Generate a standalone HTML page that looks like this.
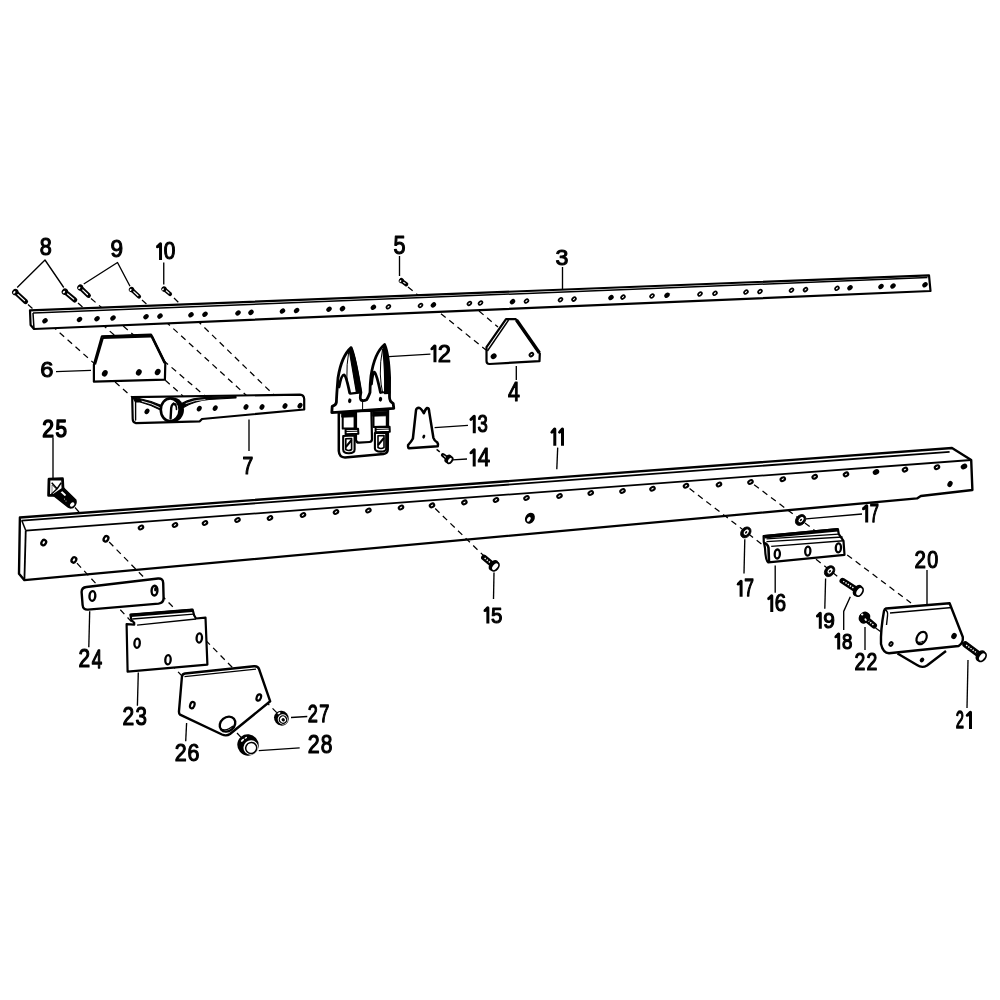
<!DOCTYPE html>
<html><head><meta charset="utf-8"><style>
html,body{margin:0;padding:0;background:#fff;width:1000px;height:1000px;overflow:hidden}
svg{display:block;will-change:transform}
text{font-family:"Liberation Sans",sans-serif}
</style></head><body>
<svg width="1000" height="1000" viewBox="0 0 1000 1000">
<rect width="1000" height="1000" fill="#fff"/>
<g stroke="#000" fill="none">
<line x1="28" y1="304.5" x2="133" y2="398" stroke-width="1.25" stroke-dasharray="6 4.6"/>
<line x1="78" y1="303" x2="183" y2="396" stroke-width="1.25" stroke-dasharray="6 4.6"/>
<line x1="91" y1="298.5" x2="205" y2="396" stroke-width="1.25" stroke-dasharray="6 4.6"/>
<line x1="142" y1="300" x2="247" y2="396" stroke-width="1.25" stroke-dasharray="6 4.6"/>
<line x1="174" y1="298" x2="275" y2="396" stroke-width="1.25" stroke-dasharray="6 4.6"/>
<line x1="408" y1="287" x2="486" y2="350" stroke-width="1.25" stroke-dasharray="6 4.6"/>
<line x1="479" y1="311" x2="498" y2="327" stroke-width="1.25" stroke-dasharray="6 4.6"/>
</g>
<g stroke="#000" stroke-linejoin="round">
<path d="M30,310.4 L929,275.3 L930.5,291 L34,329 L30.6,325 Z" stroke-width="2.2" fill="#fff"/>
<line x1="33" y1="313" x2="927.5" y2="277.6" stroke-width="1.5"/>
<line x1="33" y1="313" x2="34" y2="329" stroke-width="1.5"/>
<ellipse cx="45" cy="320.83" rx="3" ry="2.3" transform="rotate(-40 45 320.83)" fill="#000" stroke="none"/>
<ellipse cx="79.5" cy="319.41" rx="3" ry="2.3" transform="rotate(-40 79.5 319.41)" fill="#000" stroke="none"/>
<ellipse cx="97" cy="318.69" rx="3" ry="2.3" transform="rotate(-40 97 318.69)" fill="#000" stroke="none"/>
<ellipse cx="113" cy="318.04" rx="3" ry="2.3" transform="rotate(-40 113 318.04)" fill="#000" stroke="none"/>
<ellipse cx="146" cy="316.68" rx="3" ry="2.3" transform="rotate(-40 146 316.68)" fill="#000" stroke="none"/>
<ellipse cx="160" cy="316.11" rx="3" ry="2.3" transform="rotate(-40 160 316.11)" fill="#000" stroke="none"/>
<ellipse cx="191" cy="314.84" rx="3" ry="2.3" transform="rotate(-40 191 314.84)" fill="#000" stroke="none"/>
<ellipse cx="205" cy="314.26" rx="3" ry="2.3" transform="rotate(-40 205 314.26)" fill="#000" stroke="none"/>
<ellipse cx="238" cy="312.91" rx="3" ry="2.3" transform="rotate(-40 238 312.91)" fill="#000" stroke="none"/>
<ellipse cx="251" cy="312.38" rx="3" ry="2.3" transform="rotate(-40 251 312.38)" fill="#000" stroke="none"/>
<ellipse cx="282.5" cy="311.08" rx="3" ry="2.3" transform="rotate(-40 282.5 311.08)" fill="#000" stroke="none"/>
<ellipse cx="296.6" cy="310.5" rx="3" ry="2.3" transform="rotate(-40 296.6 310.5)" fill="#000" stroke="none"/>
<ellipse cx="329" cy="309.17" rx="3" ry="2.3" transform="rotate(-40 329 309.17)" fill="#000" stroke="none"/>
<ellipse cx="342.5" cy="308.62" rx="3" ry="2.3" transform="rotate(-40 342.5 308.62)" fill="#000" stroke="none"/>
<ellipse cx="373.4" cy="307.35" rx="3" ry="2.3" transform="rotate(-40 373.4 307.35)" fill="#000" stroke="none"/>
<ellipse cx="388.4" cy="306.74" rx="2.15" ry="1.45" transform="rotate(-40 388.4 306.74)" fill="#fff" stroke-width="1.7"/>
<ellipse cx="420.5" cy="305.42" rx="2.15" ry="1.45" transform="rotate(-40 420.5 305.42)" fill="#fff" stroke-width="1.7"/>
<ellipse cx="433.4" cy="304.89" rx="3" ry="2.3" transform="rotate(-40 433.4 304.89)" fill="#000" stroke="none"/>
<ellipse cx="469.4" cy="303.41" rx="2.15" ry="1.45" transform="rotate(-40 469.4 303.41)" fill="#fff" stroke-width="1.7"/>
<ellipse cx="480.5" cy="302.96" rx="2.15" ry="1.45" transform="rotate(-40 480.5 302.96)" fill="#fff" stroke-width="1.7"/>
<ellipse cx="512.5" cy="301.64" rx="3" ry="2.3" transform="rotate(-40 512.5 301.64)" fill="#000" stroke="none"/>
<ellipse cx="526.5" cy="301.07" rx="2.15" ry="1.45" transform="rotate(-40 526.5 301.07)" fill="#fff" stroke-width="1.7"/>
<ellipse cx="560.5" cy="299.67" rx="2.15" ry="1.45" transform="rotate(-40 560.5 299.67)" fill="#fff" stroke-width="1.7"/>
<ellipse cx="574" cy="299.12" rx="2.15" ry="1.45" transform="rotate(-40 574 299.12)" fill="#fff" stroke-width="1.7"/>
<ellipse cx="611" cy="297.6" rx="3" ry="2.3" transform="rotate(-40 611 297.6)" fill="#000" stroke="none"/>
<ellipse cx="623" cy="297.11" rx="2.15" ry="1.45" transform="rotate(-40 623 297.11)" fill="#fff" stroke-width="1.7"/>
<ellipse cx="652" cy="295.92" rx="2.15" ry="1.45" transform="rotate(-40 652 295.92)" fill="#fff" stroke-width="1.7"/>
<ellipse cx="667" cy="295.3" rx="3" ry="2.3" transform="rotate(-40 667 295.3)" fill="#000" stroke="none"/>
<ellipse cx="700" cy="293.95" rx="2.15" ry="1.45" transform="rotate(-40 700 293.95)" fill="#fff" stroke-width="1.7"/>
<ellipse cx="715" cy="293.33" rx="2.15" ry="1.45" transform="rotate(-40 715 293.33)" fill="#fff" stroke-width="1.7"/>
<ellipse cx="746" cy="292.06" rx="2.15" ry="1.45" transform="rotate(-40 746 292.06)" fill="#fff" stroke-width="1.7"/>
<ellipse cx="760" cy="291.49" rx="2.15" ry="1.45" transform="rotate(-40 760 291.49)" fill="#fff" stroke-width="1.7"/>
<ellipse cx="791.5" cy="290.19" rx="2.15" ry="1.45" transform="rotate(-40 791.5 290.19)" fill="#fff" stroke-width="1.7"/>
<ellipse cx="805.5" cy="289.62" rx="2.15" ry="1.45" transform="rotate(-40 805.5 289.62)" fill="#fff" stroke-width="1.7"/>
<ellipse cx="837" cy="288.33" rx="2.15" ry="1.45" transform="rotate(-40 837 288.33)" fill="#fff" stroke-width="1.7"/>
<ellipse cx="850" cy="287.79" rx="3" ry="2.3" transform="rotate(-40 850 287.79)" fill="#000" stroke="none"/>
<ellipse cx="881" cy="286.52" rx="3" ry="2.3" transform="rotate(-40 881 286.52)" fill="#000" stroke="none"/>
<ellipse cx="893" cy="286.03" rx="3" ry="2.3" transform="rotate(-40 893 286.03)" fill="#000" stroke="none"/>
<ellipse cx="925" cy="284.72" rx="3" ry="2.3" transform="rotate(-40 925 284.72)" fill="#000" stroke="none"/>
</g>
<g stroke="#000" stroke-linejoin="round">
<path d="M101.9,336.3 L151,334.6 L165.3,363.6 L164.9,379.6 L93.9,381.7 L93.9,364.5 Z" stroke-width="2.2" fill="#fff"/>
<line x1="102.5" y1="337.4" x2="151" y2="335.8" stroke-width="3.4"/>
<line x1="102.8" y1="338" x2="95" y2="364.5" stroke-width="2.2"/>
<line x1="151.6" y1="336" x2="164.8" y2="363" stroke-width="2.6"/>
<ellipse cx="104.8" cy="373.3" rx="3.4" ry="2.7" transform="rotate(-60 104.8 373.3)" fill="#000" stroke="none"/>
<ellipse cx="138.8" cy="372.4" rx="3.4" ry="2.7" transform="rotate(-60 138.8 372.4)" fill="#000" stroke="none"/>
<ellipse cx="157.7" cy="372" rx="3.4" ry="2.7" transform="rotate(-60 157.7 372)" fill="#000" stroke="none"/>
</g>
<g stroke="#000" stroke-linejoin="round" stroke-linecap="round">
<path d="M132.2,397.1 L300,394.6 Q304,395 304.2,399 L304.2,409.5 L202,419 L199.8,421.3 L136,423.2 Q132.7,422.5 132.7,419 Z" stroke-width="2.2" fill="#fff"/>
<line x1="135.6" y1="401.5" x2="135.6" y2="420" stroke-width="1.4"/>
<path d="M133,397.8 L137,398 Q150,400.5 161.5,405.5 L160.5,410 Q150,404.5 140,402 L135.5,402 Z" stroke-width="1.2" fill="#000"/>
<path d="M142,401.2 Q152,403.5 159.5,407.5" stroke-width="0.9" fill="none" stroke="#fff"/>
<path d="M181.5,403.5 Q192,397.5 208.6,397.4 L236,396.6 L236,397.8 L209,399.5 Q194,401 183.5,407.5 Z" stroke-width="1.2" fill="#000"/>
<path d="M186,403.5 Q195,399.8 205,399.6" stroke-width="0.8" fill="none" stroke="#fff"/>
<ellipse cx="173.2" cy="409.8" rx="10.8" ry="12.2" transform="rotate(0 173.2 409.8)" fill="#000" stroke="none"/>
<ellipse cx="170.2" cy="409.8" rx="9.4" ry="11.4" transform="rotate(0 170.2 409.8)" fill="#fff" stroke-width="2.6"/>
<path d="M175.5,404.5 Q172,402.5 171.2,408 L170.6,418.5" stroke-width="2.4" fill="none"/>
<path d="M173.5,403.2 Q176.8,405 176.5,409.5" stroke-width="1.6" fill="none"/>
<ellipse cx="147" cy="411.4" rx="3" ry="2.3" transform="rotate(-60 147 411.4)" fill="#000" stroke="none"/>
<ellipse cx="199.25" cy="408.65" rx="3" ry="2.3" transform="rotate(-60 199.25 408.65)" fill="#000" stroke="none"/>
<ellipse cx="215.2" cy="408.1" rx="3" ry="2.3" transform="rotate(-60 215.2 408.1)" fill="#000" stroke="none"/>
<ellipse cx="246" cy="407" rx="3" ry="2.3" transform="rotate(-60 246 407)" fill="#000" stroke="none"/>
<ellipse cx="262" cy="407" rx="3" ry="2.3" transform="rotate(-60 262 407)" fill="#000" stroke="none"/>
<ellipse cx="285" cy="406" rx="3" ry="2.3" transform="rotate(-60 285 406)" fill="#000" stroke="none"/>
<ellipse cx="300" cy="405.6" rx="3" ry="2.3" transform="rotate(-60 300 405.6)" fill="#000" stroke="none"/>
</g>
<g stroke="#000" stroke-linejoin="round">
<path d="M506,319.15 L515.75,319.15 L539.8,353.6 L539.5,361.1 L489.5,364 Q486.5,364 486.5,361 L486.5,347.1 Z" stroke-width="2.2" fill="#fff"/>
<line x1="516.5" y1="320" x2="539.3" y2="352.8" stroke-width="3.4"/>
<line x1="487.4" y1="351" x2="508.6" y2="320" stroke-width="1.4"/>
<ellipse cx="493.65" cy="356.2" rx="3.2" ry="2.6" transform="rotate(-40 493.65 356.2)" fill="#000" stroke="none"/>
<ellipse cx="531.4" cy="354.6" rx="2.1" ry="1.5" transform="rotate(-40 531.4 354.6)" fill="#fff" stroke-width="1.8"/>
</g>
<g stroke="#000">
<line x1="15.2" y1="292" x2="25.6" y2="301.6" stroke-width="5.0" stroke-linecap="round"/>
<line x1="17.87" y1="294.46" x2="24.57" y2="300.65" stroke="#fff" stroke-width="1.2" stroke-linecap="round"/>
<ellipse cx="15.2" cy="292" rx="3.3" ry="2.97" transform="rotate(132.71 15.2 292)" fill="#000" stroke="none"/>
<ellipse cx="14.3" cy="292.39" rx="1.39" ry="0.99" transform="rotate(132.71 14.3 292.39)" fill="#fff" stroke="none"/>
<line x1="64.8" y1="291.6" x2="74.8" y2="300" stroke-width="5.0" stroke-linecap="round"/>
<line x1="67.58" y1="293.93" x2="73.73" y2="299.1" stroke="#fff" stroke-width="1.2" stroke-linecap="round"/>
<ellipse cx="64.8" cy="291.6" rx="3.3" ry="2.97" transform="rotate(130.03 64.8 291.6)" fill="#000" stroke="none"/>
<ellipse cx="63.91" cy="292.03" rx="1.39" ry="0.99" transform="rotate(130.03 63.91 292.03)" fill="#fff" stroke="none"/>
<line x1="80.2" y1="287.5" x2="88.5" y2="295.5" stroke-width="4.8" stroke-linecap="round"/>
<line x1="82.66" y1="289.87" x2="87.49" y2="294.53" stroke="#fff" stroke-width="1.2" stroke-linecap="round"/>
<ellipse cx="80.2" cy="287.5" rx="3.1" ry="2.79" transform="rotate(133.95 80.2 287.5)" fill="#000" stroke="none"/>
<ellipse cx="79.29" cy="287.87" rx="1.3" ry="0.93" transform="rotate(133.95 79.29 287.87)" fill="#fff" stroke="none"/>
<line x1="131.5" y1="289.5" x2="139" y2="296.5" stroke-width="4.2" stroke-linecap="round"/>
<line x1="133.75" y1="291.6" x2="137.98" y2="295.54" stroke="#fff" stroke-width="1.2" stroke-linecap="round"/>
<ellipse cx="131.5" cy="289.5" rx="2.8" ry="2.52" transform="rotate(133.03 131.5 289.5)" fill="#000" stroke="none"/>
<ellipse cx="130.59" cy="289.89" rx="1.18" ry="0.84" transform="rotate(133.03 130.59 289.89)" fill="#fff" stroke="none"/>
<line x1="163.9" y1="288.9" x2="170" y2="294" stroke-width="4.2" stroke-linecap="round"/>
<line x1="166.18" y1="290.81" x2="168.93" y2="293.1" stroke="#fff" stroke-width="1.2" stroke-linecap="round"/>
<ellipse cx="163.9" cy="288.9" rx="2.7" ry="2.43" transform="rotate(129.9 163.9 288.9)" fill="#000" stroke="none"/>
<ellipse cx="163.02" cy="289.33" rx="1.13" ry="0.81" transform="rotate(129.9 163.02 289.33)" fill="#fff" stroke="none"/>
<line x1="401.3" y1="280.6" x2="406.2" y2="284.2" stroke-width="4.2" stroke-linecap="round"/>
<line x1="403.69" y1="282.36" x2="405.07" y2="283.37" stroke="#fff" stroke-width="1.2" stroke-linecap="round"/>
<ellipse cx="401.3" cy="280.6" rx="2.7" ry="2.43" transform="rotate(126.3 401.3 280.6)" fill="#000" stroke="none"/>
<ellipse cx="400.44" cy="281.09" rx="1.13" ry="0.81" transform="rotate(126.3 400.44 281.09)" fill="#fff" stroke="none"/>
</g>
<g stroke="#000" stroke-linejoin="round">
<path d="M19.9,517.5 L952,448 L971.2,460 L972.4,490 L920.8,496 L917,498.4 L24.4,580.1 L19,573.8 Z" stroke-width="2.4" fill="#fff"/>
<line x1="21.7" y1="520.6" x2="949.6" y2="451.9" stroke-width="1.9"/>
<line x1="25.75" y1="530.6" x2="971.2" y2="460" stroke-width="1.8"/>
<line x1="21.7" y1="520.3" x2="25.75" y2="530.6" stroke-width="1.5"/>
<line x1="25.75" y1="530.6" x2="24.4" y2="580" stroke-width="1.8"/>
<ellipse cx="141" cy="527.5" rx="2.35" ry="1.65" transform="rotate(-30 141 527.5)" fill="#fff" stroke-width="2.1"/>
<ellipse cx="175" cy="525" rx="2.35" ry="1.65" transform="rotate(-30 175 525)" fill="#fff" stroke-width="2.1"/>
<ellipse cx="205" cy="523" rx="2.35" ry="1.65" transform="rotate(-30 205 523)" fill="#fff" stroke-width="2.1"/>
<ellipse cx="237.5" cy="520" rx="2.35" ry="1.65" transform="rotate(-30 237.5 520)" fill="#fff" stroke-width="2.1"/>
<ellipse cx="270" cy="518" rx="2.35" ry="1.65" transform="rotate(-30 270 518)" fill="#fff" stroke-width="2.1"/>
<ellipse cx="303" cy="515" rx="2.35" ry="1.65" transform="rotate(-30 303 515)" fill="#fff" stroke-width="2.1"/>
<ellipse cx="336" cy="512" rx="2.35" ry="1.65" transform="rotate(-30 336 512)" fill="#fff" stroke-width="2.1"/>
<ellipse cx="368.4" cy="510.5" rx="2.35" ry="1.65" transform="rotate(-30 368.4 510.5)" fill="#fff" stroke-width="2.1"/>
<ellipse cx="401" cy="507.5" rx="2.35" ry="1.65" transform="rotate(-30 401 507.5)" fill="#fff" stroke-width="2.1"/>
<ellipse cx="432" cy="505.4" rx="2.35" ry="1.65" transform="rotate(-30 432 505.4)" fill="#fff" stroke-width="2.1"/>
<ellipse cx="464.4" cy="502.4" rx="2.35" ry="1.65" transform="rotate(-30 464.4 502.4)" fill="#fff" stroke-width="2.1"/>
<ellipse cx="496" cy="500" rx="2.35" ry="1.65" transform="rotate(-30 496 500)" fill="#fff" stroke-width="2.1"/>
<ellipse cx="526.5" cy="498" rx="2.35" ry="1.65" transform="rotate(-30 526.5 498)" fill="#fff" stroke-width="2.1"/>
<ellipse cx="559.5" cy="496" rx="2.35" ry="1.65" transform="rotate(-30 559.5 496)" fill="#fff" stroke-width="2.1"/>
<ellipse cx="590.75" cy="493" rx="2.35" ry="1.65" transform="rotate(-30 590.75 493)" fill="#fff" stroke-width="2.1"/>
<ellipse cx="622.5" cy="491" rx="2.35" ry="1.65" transform="rotate(-30 622.5 491)" fill="#fff" stroke-width="2.1"/>
<ellipse cx="652.5" cy="488.75" rx="2.35" ry="1.65" transform="rotate(-30 652.5 488.75)" fill="#fff" stroke-width="2.1"/>
<ellipse cx="686" cy="485.75" rx="2.35" ry="1.65" transform="rotate(-30 686 485.75)" fill="#fff" stroke-width="2.1"/>
<ellipse cx="719" cy="484.5" rx="2.35" ry="1.65" transform="rotate(-30 719 484.5)" fill="#fff" stroke-width="2.1"/>
<ellipse cx="750.5" cy="482" rx="2.35" ry="1.65" transform="rotate(-30 750.5 482)" fill="#fff" stroke-width="2.1"/>
<ellipse cx="782.8" cy="479.2" rx="2.35" ry="1.65" transform="rotate(-30 782.8 479.2)" fill="#fff" stroke-width="2.1"/>
<ellipse cx="814.7" cy="476.8" rx="2.35" ry="1.65" transform="rotate(-30 814.7 476.8)" fill="#fff" stroke-width="2.1"/>
<ellipse cx="846" cy="474.4" rx="2.35" ry="1.65" transform="rotate(-30 846 474.4)" fill="#fff" stroke-width="2.1"/>
<ellipse cx="876" cy="472" rx="3.4" ry="2.7" transform="rotate(-30 876 472)" fill="#000" stroke="none"/>
<ellipse cx="905" cy="469.6" rx="2.35" ry="1.65" transform="rotate(-30 905 469.6)" fill="#fff" stroke-width="2.1"/>
<ellipse cx="937" cy="467.2" rx="2.35" ry="1.65" transform="rotate(-30 937 467.2)" fill="#fff" stroke-width="2.1"/>
<ellipse cx="964" cy="466.5" rx="3.4" ry="2.7" transform="rotate(-30 964 466.5)" fill="#000" stroke="none"/>
<ellipse cx="43.75" cy="542.6" rx="2.85" ry="2.15" transform="rotate(-60 43.75 542.6)" fill="#fff" stroke-width="2.3"/>
<ellipse cx="106" cy="538.8" rx="2.85" ry="2.15" transform="rotate(-60 106 538.8)" fill="#fff" stroke-width="2.3"/>
<ellipse cx="73.9" cy="559.9" rx="2.85" ry="2.15" transform="rotate(-60 73.9 559.9)" fill="#fff" stroke-width="2.3"/>
<ellipse cx="950" cy="484" rx="3.2" ry="2.4" transform="rotate(-60 950 484)" fill="#000" stroke="none"/>
<ellipse cx="529.9" cy="518.2" rx="5.8" ry="4.6" transform="rotate(-58 529.9 518.2)" fill="#000" stroke="none"/>
<ellipse cx="528.8" cy="519.2" rx="2.6" ry="1.6" transform="rotate(-58 528.8 519.2)" fill="#fff" stroke="none"/>
</g>
<g stroke="#000" fill="none">
<line x1="76.97" y1="563.19" x2="182" y2="676" stroke-width="1.25" stroke-dasharray="6 4.6"/>
<line x1="109.15" y1="542.01" x2="281" y2="717" stroke-width="1.25" stroke-dasharray="6 4.6"/>
<line x1="237" y1="733" x2="243" y2="739.5" stroke-width="1.25" stroke-dasharray="6 4.6"/>
<line x1="75" y1="507.5" x2="79" y2="512" stroke-width="1.25" stroke-dasharray="6 4.6"/>
<line x1="435.22" y1="508.54" x2="485" y2="557" stroke-width="1.25" stroke-dasharray="6 4.6"/>
<line x1="689.56" y1="488.5" x2="764" y2="546" stroke-width="1.25" stroke-dasharray="6 4.6"/>
<line x1="754.09" y1="484.71" x2="911" y2="603" stroke-width="1.25" stroke-dasharray="6 4.6"/>
<line x1="816" y1="559.2" x2="842" y2="580" stroke-width="1.25" stroke-dasharray="6 4.6"/>
<line x1="958" y1="640" x2="965" y2="645" stroke-width="1.25" stroke-dasharray="6 4.6"/>
</g>
<g stroke="#000" stroke-linejoin="round">
<path d="M86.5,587 L158,578.5 Q163,578 163.2,583 L163.6,598 Q163.6,603 158.5,603.6 L88,609.6 Q83,610 82.6,605 L81.6,592 Q81.6,587.5 86.5,587 Z" stroke-width="2.4" fill="#fff"/>
<ellipse cx="92.4" cy="596" rx="2.9" ry="4.9" transform="rotate(4 92.4 596)" fill="#fff" stroke-width="2.4"/>
<ellipse cx="154.5" cy="590.6" rx="2.9" ry="4.9" transform="rotate(4 154.5 590.6)" fill="#fff" stroke-width="2.4"/>
<ellipse cx="155.4" cy="589.2" rx="1.3" ry="2.2" transform="rotate(5 155.4 589.2)" fill="#000" stroke="none"/>
</g>
<g stroke="#000" stroke-linejoin="round">
<path d="M130.4,614.7 L192.6,609.5 L194.1,615.2 L196,618.5 L205.5,617.6 L207.4,664.6 L127.6,671.7 L126.6,624.2 L134.2,624.7 L134.2,622.8 L131.4,620 Z" stroke-width="2.2" fill="#fff"/>
<line x1="130.8" y1="615.4" x2="192.4" y2="610.4" stroke-width="3.2"/>
<line x1="132.3" y1="619" x2="193.6" y2="614.2" stroke-width="1.3"/>
<line x1="137.1" y1="625.2" x2="196" y2="619" stroke-width="1.3"/>
<ellipse cx="137.1" cy="643.2" rx="2.7" ry="4.6" transform="rotate(4 137.1 643.2)" fill="#fff" stroke-width="2.3"/>
<ellipse cx="199.3" cy="638" rx="2.7" ry="4.6" transform="rotate(4 199.3 638)" fill="#fff" stroke-width="2.3"/>
<ellipse cx="168" cy="659.8" rx="2.7" ry="4.6" transform="rotate(4 168 659.8)" fill="#fff" stroke-width="2.3"/>
</g>
<g stroke="#000" stroke-linejoin="round">
<path d="M185,673.5 L254,666.3 Q258,666 259,669 L270.2,701.3 L230,734 Q226.5,736.5 222,734.5 L180,714.6 Q178.8,713.5 179,711 L181.9,677 Q182.2,673.8 185,673.5 Z" stroke-width="2.4" fill="#fff"/>
<line x1="184.5" y1="676.6" x2="256" y2="669.2" stroke-width="1.2"/>
<ellipse cx="192.3" cy="705.1" rx="3.3" ry="2.1" transform="rotate(-70 192.3 705.1)" fill="#fff" stroke-width="2.2"/>
<ellipse cx="258.8" cy="697.5" rx="3.3" ry="2.1" transform="rotate(-70 258.8 697.5)" fill="#fff" stroke-width="2.2"/>
<ellipse cx="227.5" cy="724.1" rx="8.4" ry="6.8" transform="rotate(-40 227.5 724.1)" fill="#fff" stroke-width="2.4"/>
<path d="M220.5,728.5 Q226,732 233,726" stroke-width="1.2" fill="none"/>
</g>
<g stroke="#000">
<ellipse cx="281.4" cy="718.2" rx="7.2" ry="7.6" transform="rotate(-40 281.4 718.2)" fill="#000" stroke="none"/>
<ellipse cx="282.8" cy="719.4" rx="5" ry="5.2" transform="rotate(-40 282.8 719.4)" fill="#fff" stroke="none"/>
<ellipse cx="283" cy="719.6" rx="3.6" ry="3.8" transform="rotate(-40 283 719.6)" fill="#fff" stroke-width="1.3"/>
<ellipse cx="283.2" cy="719.8" rx="1.6" ry="1.8" transform="rotate(-40 283.2 719.8)" fill="#000" stroke="none"/>
<ellipse cx="279" cy="713.2" rx="1.6" ry="0.8" transform="rotate(-30 279 713.2)" fill="#fff" stroke="none"/>
<ellipse cx="248" cy="745" rx="10.6" ry="10.9" transform="rotate(-40 248 745)" fill="#000" stroke="none"/>
<ellipse cx="250.8" cy="747.6" rx="7.4" ry="7.2" transform="rotate(-40 250.8 747.6)" fill="#fff" stroke="none"/>
<ellipse cx="251.2" cy="748" rx="5.6" ry="5.4" transform="rotate(-40 251.2 748)" fill="#fff" stroke-width="1.5"/>
<ellipse cx="250" cy="746.5" rx="1.4" ry="2.8" transform="rotate(-35 250 746.5)" fill="#fff" stroke="none"/>
<ellipse cx="242.5" cy="740.2" rx="2" ry="0.9" transform="rotate(-40 242.5 740.2)" fill="#fff" stroke="none"/>
<ellipse cx="245.8" cy="737.8" rx="1.4" ry="0.7" transform="rotate(-30 245.8 737.8)" fill="#fff" stroke="none"/>
</g>
<g stroke="#000" stroke-linejoin="round">
<path d="M57.5,487.5 L62.5,487 L75.8,500 Q77,504 73,507.5 Q70,508.5 68,507 L53.5,495.4 Z" stroke-width="1.5" fill="#000"/>
<path d="M58.5,489 L65,495" stroke-width="1.8" fill="none" stroke="#fff" stroke-linecap="round"/>
<ellipse cx="64.5" cy="499" rx="0.5" ry="0.5" transform="rotate(0 64.5 499)" fill="#fff" stroke="none"/>
<ellipse cx="66" cy="501" rx="0.5" ry="0.5" transform="rotate(0 66 501)" fill="#fff" stroke="none"/>
<path d="M49,479.2 L62.5,478.75 L63,489 L53.5,495.4 L48.6,495.4 Z" stroke-width="2.8" fill="#fff"/>
<path d="M51.7,482.8 L57.1,488.7 L61.2,482.8 M57.1,488.7 L51.5,494" stroke-width="1.5" fill="none"/>
<path d="M52,485 L56,489 L52,493 Z" stroke-width="0.5" fill="#fff"/>
<ellipse cx="72.2" cy="504.5" rx="2.6" ry="1.8" transform="rotate(-45 72.2 504.5)" fill="#fff" stroke="none"/>
</g>
<g stroke="#000" stroke-linejoin="round">
<line x1="484" y1="557.5" x2="492.96" y2="564.92" stroke-width="5.8" stroke-linecap="round"/>
<line x1="484.62" y1="558.01" x2="490.43" y2="562.83" stroke="#fff" stroke-width="1.4" stroke-dasharray="1.4 1.3"/>
<ellipse cx="493.58" cy="565.43" rx="3.3" ry="5.2" transform="rotate(39.64 493.58 565.43)" fill="#000" stroke-width="1.6"/>
<ellipse cx="495.12" cy="566.71" rx="3.08" ry="4.78" transform="rotate(39.64 495.12 566.71)" fill="#fff" stroke-width="1.8"/>
</g>
<g stroke="#000" stroke-linejoin="round">
<path d="M763.6,536.1 L837.9,529 L838.8,534.2 L843.5,540.8 L844.5,554.9 L768.3,562.4 Q765.5,561 765,548 Q764.5,545 763.8,542 Z" stroke-width="2.2" fill="#fff"/>
<line x1="764.2" y1="536.7" x2="837.9" y2="529.8" stroke-width="3.4"/>
<line x1="766.5" y1="538.9" x2="838.8" y2="534.2" stroke-width="1.3"/>
<line x1="766.5" y1="541.7" x2="842.6" y2="537" stroke-width="1.3"/>
<line x1="771.2" y1="546.4" x2="843.5" y2="540.8" stroke-width="1.4"/>
<path d="M764,543 Q768,544 768.5,548 L769,562" stroke-width="2.6" fill="none"/>
<ellipse cx="777.3" cy="554" rx="2.6" ry="4.5" transform="rotate(3 777.3 554)" fill="#fff" stroke-width="2.3"/>
<ellipse cx="807.8" cy="551.1" rx="2.6" ry="4.5" transform="rotate(3 807.8 551.1)" fill="#fff" stroke-width="2.3"/>
<ellipse cx="838.4" cy="547.8" rx="2.6" ry="4.5" transform="rotate(3 838.4 547.8)" fill="#fff" stroke-width="2.3"/>
</g>
<g stroke="#000">
<ellipse cx="745.8" cy="532.4" rx="6" ry="4.6" transform="rotate(-50 745.8 532.4)" fill="#000" stroke-width="0.8"/>
<ellipse cx="746.3" cy="532.1" rx="3.6" ry="2.5" transform="rotate(-50 746.3 532.1)" fill="#fff" stroke-width="1.0"/>
<ellipse cx="746.1" cy="532.4" rx="1.4" ry="0.9" transform="rotate(-50 746.1 532.4)" fill="#000" stroke="none"/>
<ellipse cx="800.6" cy="520" rx="6" ry="4.6" transform="rotate(-50 800.6 520)" fill="#000" stroke-width="0.8"/>
<ellipse cx="801.1" cy="519.7" rx="3.6" ry="2.5" transform="rotate(-50 801.1 519.7)" fill="#fff" stroke-width="1.0"/>
<ellipse cx="800.9" cy="520" rx="1.4" ry="0.9" transform="rotate(-50 800.9 520)" fill="#000" stroke="none"/>
<ellipse cx="829.6" cy="571.2" rx="6" ry="4.6" transform="rotate(-50 829.6 571.2)" fill="#000" stroke-width="0.8"/>
<ellipse cx="830.1" cy="570.9" rx="3.6" ry="2.5" transform="rotate(-50 830.1 570.9)" fill="#fff" stroke-width="1.0"/>
<ellipse cx="829.9" cy="571.2" rx="1.4" ry="0.9" transform="rotate(-50 829.9 571.2)" fill="#000" stroke="none"/>
</g>
<g stroke="#000" stroke-linejoin="round">
<line x1="842.5" y1="580.8" x2="856.92" y2="590.11" stroke-width="6.0" stroke-linecap="round"/>
<line x1="843.17" y1="581.23" x2="853.96" y2="588.2" stroke="#fff" stroke-width="1.4" stroke-dasharray="1.4 1.3"/>
<ellipse cx="857.59" cy="590.55" rx="3.45" ry="5.4" transform="rotate(32.86 857.59 590.55)" fill="#000" stroke-width="1.6"/>
<ellipse cx="859.27" cy="591.63" rx="3.22" ry="4.97" transform="rotate(32.86 859.27 591.63)" fill="#fff" stroke-width="1.8"/>
<line x1="874" y1="625.5" x2="865.74" y2="618.67" stroke-width="6.0" stroke-linecap="round"/>
<line x1="873.38" y1="624.99" x2="868.64" y2="621.07" stroke="#fff" stroke-width="1.4" stroke-dasharray="1.4 1.3"/>
<ellipse cx="865.12" cy="618.16" rx="3.6" ry="5.4" transform="rotate(-140.43 865.12 618.16)" fill="#000" stroke-width="1.6"/>
<ellipse cx="863.58" cy="616.89" rx="3.36" ry="4.97" transform="rotate(-140.43 863.58 616.89)" fill="#fff" stroke-width="1.8"/>
<ellipse cx="863.4" cy="616.8" rx="3.2" ry="4.2" transform="rotate(-140 863.4 616.8)" fill="#000" stroke-width="1.2"/>
<ellipse cx="862.2" cy="614.6" rx="1.2" ry="1" transform="rotate(0 862.2 614.6)" fill="#fff" stroke="none"/>
<ellipse cx="865.6" cy="619.6" rx="0.9" ry="1.4" transform="rotate(-40 865.6 619.6)" fill="#fff" stroke="none"/>
<line x1="965.5" y1="644.5" x2="979.9" y2="655.3" stroke-width="6.4" stroke-linecap="round"/>
<line x1="966.14" y1="644.98" x2="977.08" y2="653.19" stroke="#fff" stroke-width="1.4" stroke-dasharray="1.4 1.3"/>
<ellipse cx="980.54" cy="655.78" rx="3.45" ry="5.4" transform="rotate(36.87 980.54 655.78)" fill="#000" stroke-width="1.6"/>
<ellipse cx="982.14" cy="656.98" rx="3.22" ry="4.97" transform="rotate(36.87 982.14 656.98)" fill="#fff" stroke-width="1.8"/>
</g>
<g stroke="#000" stroke-linejoin="round">
<path d="M897.5,653.5 L917,665 Q922,668.5 927,665.5 L946,651" stroke-width="2.4" fill="#fff"/>
<path d="M886,608.5 L949.6,603.2 L962.8,637 Q963.5,643 958.6,646 L889,653.2 Q883,653 881,644 Q880.5,630 884,611 Q884.5,609 886,608.5 Z" stroke-width="2.4" fill="#fff"/>
<line x1="890" y1="613" x2="952" y2="607.5" stroke-width="1.4"/>
<path d="M884.5,609.5 Q888.5,611 887.5,616 L886.5,625" stroke-width="1.4" fill="none"/>
<ellipse cx="922" cy="660" rx="2.6" ry="2" transform="rotate(-45 922 660)" fill="#000" stroke="none"/>
<ellipse cx="891" cy="644" rx="2" ry="1.4" transform="rotate(-60 891 644)" fill="#fff" stroke-width="2.0"/>
<ellipse cx="954" cy="636" rx="3.2" ry="2.6" transform="rotate(-60 954 636)" fill="#000" stroke="none"/>
<ellipse cx="921.6" cy="638" rx="6.6" ry="4.6" transform="rotate(-60 921.6 638)" fill="#fff" stroke-width="2.2"/>
<path d="M917,641.5 Q919.5,643.5 923.5,641" stroke-width="1.2" fill="none"/>
</g>
<g stroke="#000">
<line x1="875.6" y1="628" x2="881.5" y2="632.3" stroke-width="1.3" stroke-dasharray="6 4.6"/>
</g>
<g stroke="#000" stroke-linejoin="round" stroke-linecap="round">
<path d="M338.8,412.6 L338.8,451 Q339.2,457.4 345,457.4 L383.5,454 Q387.5,453.5 387.7,450 L388,410 Z" stroke-width="2.5" fill="#fff"/>
<path d="M356,412.6 L356,440 Q356.5,442.8 359,442.7 L369.5,442 Q372,441.8 372,439 L371.4,411.9" stroke-width="2.2" fill="#fff"/>
<path d="M342.7,414 L354.6,413.5 L354.6,428.2 L342.7,428.6 Z" stroke-width="2.0" fill="#fff"/>
<path d="M341.5,412.8 L355.5,412.4 L355.5,416.8 L342,417.2 Z" stroke-width="0.8" fill="#000"/>
<path d="M345.6,429.2 L358.1,428.8 L358.4,433.8 L345.6,434.2 Z" stroke-width="2.0" fill="#fff"/>
<line x1="346" y1="431.5" x2="358" y2="431.2" stroke-width="1.0"/>
<path d="M343.2,436 L354.6,435.5 L354.6,449.5 Q354.6,453.2 349,453.2 Q343.2,453.4 343.2,449.5 Z" stroke-width="2.1" fill="#fff"/>
<path d="M345.8,438.8 L351.6,438.5 L351.6,449.5 Q349,451.5 345.8,449.5 Z" stroke-width="1.6" fill="#fff"/>
<line x1="346.2" y1="446.5" x2="351.2" y2="440.5" stroke-width="2.0"/>
<path d="M373.5,413.3 L386.8,412.8 L386.8,426.6 L373.5,427 Z" stroke-width="2.0" fill="#fff"/>
<path d="M372.5,412 L387.5,411.5 L387.5,415.8 L373,416.2 Z" stroke-width="0.8" fill="#000"/>
<path d="M375.6,427.3 L389.6,426.8 L389.8,431.7 L375.6,432.2 Z" stroke-width="2.0" fill="#fff"/>
<line x1="376" y1="429.5" x2="389.2" y2="429" stroke-width="1.0"/>
<path d="M374.9,433 L386.2,432.6 L386.2,448.5 Q386.2,451.6 381,451.6 Q374.9,451.6 374.9,448.5 Z" stroke-width="2.1" fill="#fff"/>
<path d="M378,435.8 L384,435.5 L384,447.5 Q381,449.5 378,447.5 Z" stroke-width="1.6" fill="#fff"/>
<line x1="378.5" y1="444.5" x2="383.5" y2="438.5" stroke-width="2.0"/>
<path d="M351.1,347.6 C345,353 340,365 338,378 C337,390 336.5,398 336.4,402.2 Q336,405 332.2,406.4 L331.8,412.6 L393.8,408.4 L393.2,403.5 Q389.5,401.5 389.5,397 L389.6,377.5 C389,362 387,350 384.6,344.5 C378,350 373,362 371,376 C370,385 370,390 370,392.5 Q368,398 366.5,399.8 Q363.5,401.5 361,400 Q359.6,398.5 360.9,392.4 C358,375 355,357 351.1,347.6 Z" stroke-width="2.8" fill="#fff"/>
<path d="M351.1,347.8 C355,352 358,372 361.3,392 L356.5,392.8 C353.5,376 350.5,358 349.2,350 Z" stroke-width="1.2" fill="#000"/>
<path d="M339,387 Q341.5,374.5 344.1,374.9 Q346.3,376 349.7,393" stroke-width="2.8" fill="none"/>
<path d="M348.6,352.5 Q346.5,365 346.9,377 Q347.5,386 349.6,392" stroke-width="1.0" fill="none"/>
<line x1="350.4" y1="393.6" x2="360.9" y2="392.4" stroke-width="2.2"/>
<path d="M384.6,344.7 C387.8,352 389.4,365 389.6,377.5 L389.6,393.5 L384.6,393.6 C385,376 384,360 382.8,349.5 Z" stroke-width="1.2" fill="#000"/>
<path d="M371.5,384 Q372.5,372 374.5,372.25 Q376.6,374 380.5,392.5" stroke-width="2.8" fill="none"/>
<path d="M382.5,349.5 Q380,362 380.3,374 Q380.8,385 382.5,392" stroke-width="1.0" fill="none"/>
<line x1="381" y1="392.5" x2="389.5" y2="392" stroke-width="2.2"/>
<line x1="362.6" y1="401.2" x2="362.6" y2="410.5" stroke-width="1.0"/>
<ellipse cx="349.75" cy="400.75" rx="1.7" ry="2.4" transform="rotate(10 349.75 400.75)" fill="#000" stroke="none"/>
<ellipse cx="380.5" cy="399.25" rx="1.7" ry="2.4" transform="rotate(10 380.5 399.25)" fill="#000" stroke="none"/>
</g>
<g stroke="#000" stroke-linejoin="round">
<path d="M416,410.3 Q416.5,407.8 418.8,407.8 Q421,408 423.8,413.2 Q425.5,408.8 427.2,408 Q429,408 429,410.5 L433.4,437.8 Q434.5,441 437.2,442.3 Q438.4,444 437.8,446.2 L409.2,448.2 Q407.8,448 408.1,445 Q411.5,441.5 412.9,438.5 Z" stroke-width="2.5" fill="#fff"/>
<ellipse cx="423.8" cy="436.6" rx="1.4" ry="2.1" transform="rotate(20 423.8 436.6)" fill="#000" stroke="none"/>
</g>
<g stroke="#000" stroke-linejoin="round">
<line x1="436.6" y1="449.4" x2="440" y2="452" stroke-width="1.4" stroke-dasharray="4 3"/>
<line x1="443" y1="455.1" x2="447.58" y2="458.43" stroke-width="4.2" stroke-linecap="round"/>
<ellipse cx="448.23" cy="458.9" rx="2.4" ry="3.8" transform="rotate(35.97 448.23 458.9)" fill="#000" stroke-width="1.6"/>
<ellipse cx="449.85" cy="460.07" rx="2.24" ry="3.5" transform="rotate(35.97 449.85 460.07)" fill="#fff" stroke-width="1.8"/>
<line x1="443.6" y1="455.5" x2="446" y2="457.4" stroke-width="1.0" stroke="#fff"/>
</g>
<g stroke="#000" fill="none" stroke-linejoin="round">
<path d="M17.2,287.5 L45,260 L63.75,287.5" stroke-width="1.35"/>
<path d="M83.75,284 L117.5,262.5 L130,286.25" stroke-width="1.35"/>
<path d="M163.75,262.5 L163.75,284.5" stroke-width="1.35"/>
<path d="M399.5,256 L399.5,276" stroke-width="1.35"/>
<path d="M562.5,267 L562.5,289" stroke-width="1.35"/>
<path d="M56,371.6 L91,370.4" stroke-width="1.35"/>
<path d="M249,419.5 L249,451" stroke-width="1.35"/>
<path d="M388.8,356.6 L430.4,354.2" stroke-width="1.35"/>
<path d="M516.3,366 L516.3,380" stroke-width="1.35"/>
<path d="M434.6,427.6 L468,425.4" stroke-width="1.35"/>
<path d="M452.5,459.8 L467,459" stroke-width="1.35"/>
<path d="M557.7,447.6 L556.8,469.2" stroke-width="1.35"/>
<path d="M53,437.5 L53,478.75" stroke-width="1.35"/>
<path d="M494,572.5 L493.5,599" stroke-width="1.35"/>
<path d="M744.8,539.2 L744,573.6" stroke-width="1.35"/>
<path d="M775.2,565.6 L775.2,592.8" stroke-width="1.35"/>
<path d="M825.6,578.4 L824.8,608.8" stroke-width="1.35"/>
<path d="M806,518.8 L862,514" stroke-width="1.35"/>
<path d="M927,570 L927,604" stroke-width="1.35"/>
<path d="M865,627 L865,650" stroke-width="1.35"/>
<path d="M968,660 L967,708" stroke-width="1.35"/>
<path d="M89.7,611.3 L88.8,647.3" stroke-width="1.35"/>
<path d="M138.3,672.5 L137.4,705.8" stroke-width="1.35"/>
<path d="M186.6,723 L185.7,741.2" stroke-width="1.35"/>
<path d="M291,717.5 L307.3,716.5" stroke-width="1.35"/>
<path d="M258.8,750.7 L299.7,747.9" stroke-width="1.35"/>
<path d="M850.3,596.7 L843.7,611.4 L843.7,630" stroke-width="1.35"/>
</g>
<g fill="#000" style="font-family:'Liberation Sans',sans-serif">
<text transform="translate(39.69,255.47) scale(0.2160,0.2310)" font-size="100" font-weight="normal" stroke="#000" stroke-width="4.92" stroke-linejoin="round">8</text>
<text transform="translate(110.42,256.72) scale(0.2261,0.2310)" font-size="100" font-weight="normal" stroke="#000" stroke-width="4.81" stroke-linejoin="round">9</text>
<path d="M157.35,246.88 L160.33,243.8 L160.53,243.8 L160.53,260" stroke="#000" stroke-width="3.0" fill="none" stroke-linejoin="round" stroke-linecap="butt"/>
<circle cx="157.35" cy="246.88" r="1.35" stroke="none"/>
<text transform="translate(163.65,259.22) scale(0.2078,0.2310)" font-size="100" font-weight="normal" stroke="#000" stroke-width="5.01" stroke-linejoin="round">0</text>
<text transform="translate(393.44,254.19) scale(0.2160,0.2557)" font-size="100" font-weight="normal" stroke="#000" stroke-width="4.66" stroke-linejoin="round">5</text>
<text transform="translate(555.62,265.23) scale(0.2319,0.2239)" font-size="100" font-weight="normal" stroke="#000" stroke-width="4.83" stroke-linejoin="round">3</text>
<text transform="translate(40.37,377.23) scale(0.2370,0.2239)" font-size="100" font-weight="normal" stroke="#000" stroke-width="4.77" stroke-linejoin="round">6</text>
<text transform="translate(242.58,473.68) scale(0.1935,0.2338)" font-size="100" font-weight="normal" stroke="#000" stroke-width="5.15" stroke-linejoin="round">7</text>
<path d="M431.75,349 L434.76,345.9 L434.96,345.9 L434.96,362.2" stroke="#000" stroke-width="3.0" fill="none" stroke-linejoin="round" stroke-linecap="butt"/>
<circle cx="431.75" cy="349" r="1.35" stroke="none"/>
<text transform="translate(437.72,361.65) scale(0.2378,0.2357)" font-size="100" font-weight="normal" stroke="#000" stroke-width="4.65" stroke-linejoin="round">2</text>
<text transform="translate(508.12,400.52) scale(0.2137,0.2750)" font-size="100" font-weight="normal" stroke="#000" stroke-width="4.50" stroke-linejoin="round">4</text>
<path d="M470.85,419.55 L474.07,416.3 L474.27,416.3 L474.27,433.2" stroke="#000" stroke-width="3.0" fill="none" stroke-linejoin="round" stroke-linecap="butt"/>
<circle cx="470.85" cy="419.55" r="1.35" stroke="none"/>
<text transform="translate(477.48,432.41) scale(0.1858,0.2408)" font-size="100" font-weight="normal" stroke="#000" stroke-width="5.16" stroke-linejoin="round">3</text>
<path d="M470.85,453 L474,449.8 L474.2,449.8 L474.2,466.5" stroke="#000" stroke-width="3.0" fill="none" stroke-linejoin="round" stroke-linecap="butt"/>
<circle cx="470.85" cy="453" r="1.35" stroke="none"/>
<text transform="translate(477.71,466.20) scale(0.2216,0.2485)" font-size="100" font-weight="normal" stroke="#000" stroke-width="4.68" stroke-linejoin="round">4</text>
<path d="M551.85,432.3 L554.6,429.1 L554.8,429.1 L554.8,445.8" stroke="#000" stroke-width="3.0" fill="none" stroke-linejoin="round" stroke-linecap="butt"/>
<circle cx="551.85" cy="432.3" r="1.35" stroke="none"/>
<path d="M559.55,432.3 L562.3,429.1 L562.5,429.1 L562.5,445.8" stroke="#000" stroke-width="3.0" fill="none" stroke-linejoin="round" stroke-linecap="butt"/>
<circle cx="559.55" cy="432.3" r="1.35" stroke="none"/>
<text transform="translate(42.20,436.75) scale(0.2103,0.2457)" font-size="100" font-weight="normal" stroke="#000" stroke-width="6.58" stroke-linejoin="round">2</text>
<text transform="translate(55.50,436.50) scale(0.2059,0.2457)" font-size="100" font-weight="normal" stroke="#000" stroke-width="6.64" stroke-linejoin="round">5</text>
<path d="M863.35,508.9 L866.5,505.7 L866.7,505.7 L866.7,522.4" stroke="#000" stroke-width="3.0" fill="none" stroke-linejoin="round" stroke-linecap="butt"/>
<circle cx="863.35" cy="508.9" r="1.35" stroke="none"/>
<text transform="translate(869.82,522.10) scale(0.1652,0.2485)" font-size="100" font-weight="normal" stroke="#000" stroke-width="5.32" stroke-linejoin="round">7</text>
<path d="M738.15,584.2 L740.89,581.3 L741.09,581.3 L741.09,596.8" stroke="#000" stroke-width="3.0" fill="none" stroke-linejoin="round" stroke-linecap="butt"/>
<circle cx="738.15" cy="584.2" r="1.35" stroke="none"/>
<text transform="translate(744.17,596.48) scale(0.1742,0.2309)" font-size="100" font-weight="normal" stroke="#000" stroke-width="5.43" stroke-linejoin="round">7</text>
<path d="M768.55,598.8 L771.56,595.7 L771.76,595.7 L771.76,612" stroke="#000" stroke-width="3.0" fill="none" stroke-linejoin="round" stroke-linecap="butt"/>
<circle cx="768.55" cy="598.8" r="1.35" stroke="none"/>
<text transform="translate(774.70,611.22) scale(0.2030,0.2324)" font-size="100" font-weight="normal" stroke="#000" stroke-width="5.05" stroke-linejoin="round">6</text>
<path d="M817.35,616.2 L820.09,613.3 L820.29,613.3 L820.29,628.8" stroke="#000" stroke-width="3.0" fill="none" stroke-linejoin="round" stroke-linecap="butt"/>
<circle cx="817.35" cy="616.2" r="1.35" stroke="none"/>
<text transform="translate(823.19,628.03) scale(0.2090,0.2211)" font-size="100" font-weight="normal" stroke="#000" stroke-width="5.11" stroke-linejoin="round">9</text>
<path d="M835.75,637 L838.49,634.1 L838.69,634.1 L838.69,649.6" stroke="#000" stroke-width="3.0" fill="none" stroke-linejoin="round" stroke-linecap="butt"/>
<circle cx="835.75" cy="637" r="1.35" stroke="none"/>
<text transform="translate(841.89,648.83) scale(0.1875,0.2211)" font-size="100" font-weight="normal" stroke="#000" stroke-width="5.38" stroke-linejoin="round">8</text>
<text transform="translate(914.52,568.45) scale(0.2054,0.2414)" font-size="100" font-weight="normal" stroke="#000" stroke-width="4.92" stroke-linejoin="round">2</text>
<text transform="translate(927.21,568.21) scale(0.1969,0.2380)" font-size="100" font-weight="normal" stroke="#000" stroke-width="5.06" stroke-linejoin="round">0</text>
<text transform="translate(854.58,670.45) scale(0.1946,0.2414)" font-size="100" font-weight="normal" stroke="#000" stroke-width="5.05" stroke-linejoin="round">2</text>
<text transform="translate(866.53,670.45) scale(0.1946,0.2414)" font-size="100" font-weight="normal" stroke="#000" stroke-width="5.05" stroke-linejoin="round">2</text>
<text transform="translate(955.81,728.45) scale(0.1478,0.2414)" font-size="100" font-weight="normal" stroke="#000" stroke-width="5.65" stroke-linejoin="round">2</text>
<path d="M967.15,715.5 L970.3,712.3 L970.5,712.3 L970.5,729" stroke="#000" stroke-width="3.0" fill="none" stroke-linejoin="round" stroke-linecap="butt"/>
<circle cx="967.15" cy="715.5" r="1.35" stroke="none"/>
<text transform="translate(78.51,667.45) scale(0.2087,0.2557)" font-size="100" font-weight="normal" stroke="#000" stroke-width="4.74" stroke-linejoin="round">2</text>
<text transform="translate(91.77,667.71) scale(0.1882,0.2632)" font-size="100" font-weight="normal" stroke="#000" stroke-width="4.87" stroke-linejoin="round">4</text>
<text transform="translate(122.50,725.05) scale(0.2098,0.2543)" font-size="100" font-weight="normal" stroke="#000" stroke-width="4.74" stroke-linejoin="round">2</text>
<text transform="translate(135.38,724.80) scale(0.2053,0.2507)" font-size="100" font-weight="normal" stroke="#000" stroke-width="4.82" stroke-linejoin="round">3</text>
<text transform="translate(174.68,761.45) scale(0.2141,0.2414)" font-size="100" font-weight="normal" stroke="#000" stroke-width="4.83" stroke-linejoin="round">2</text>
<text transform="translate(187.53,761.21) scale(0.2141,0.2380)" font-size="100" font-weight="normal" stroke="#000" stroke-width="4.87" stroke-linejoin="round">6</text>
<text transform="translate(307.84,721.65) scale(0.1815,0.2414)" font-size="100" font-weight="normal" stroke="#000" stroke-width="5.20" stroke-linejoin="round">2</text>
<text transform="translate(319.19,721.90) scale(0.1815,0.2485)" font-size="100" font-weight="normal" stroke="#000" stroke-width="5.12" stroke-linejoin="round">7</text>
<text transform="translate(307.68,752.95) scale(0.2141,0.2557)" font-size="100" font-weight="normal" stroke="#000" stroke-width="4.68" stroke-linejoin="round">2</text>
<text transform="translate(320.76,752.70) scale(0.2096,0.2521)" font-size="100" font-weight="normal" stroke="#000" stroke-width="4.77" stroke-linejoin="round">8</text>
<path d="M484.85,610.75 L487.66,607.8 L487.86,607.8 L487.86,623.5" stroke="#000" stroke-width="3.0" fill="none" stroke-linejoin="round" stroke-linecap="butt"/>
<circle cx="484.85" cy="610.75" r="1.35" stroke="none"/>
<text transform="translate(490.98,622.72) scale(0.2052,0.2271)" font-size="100" font-weight="normal" stroke="#000" stroke-width="5.09" stroke-linejoin="round">5</text>
</g>
</svg>
</body></html>
